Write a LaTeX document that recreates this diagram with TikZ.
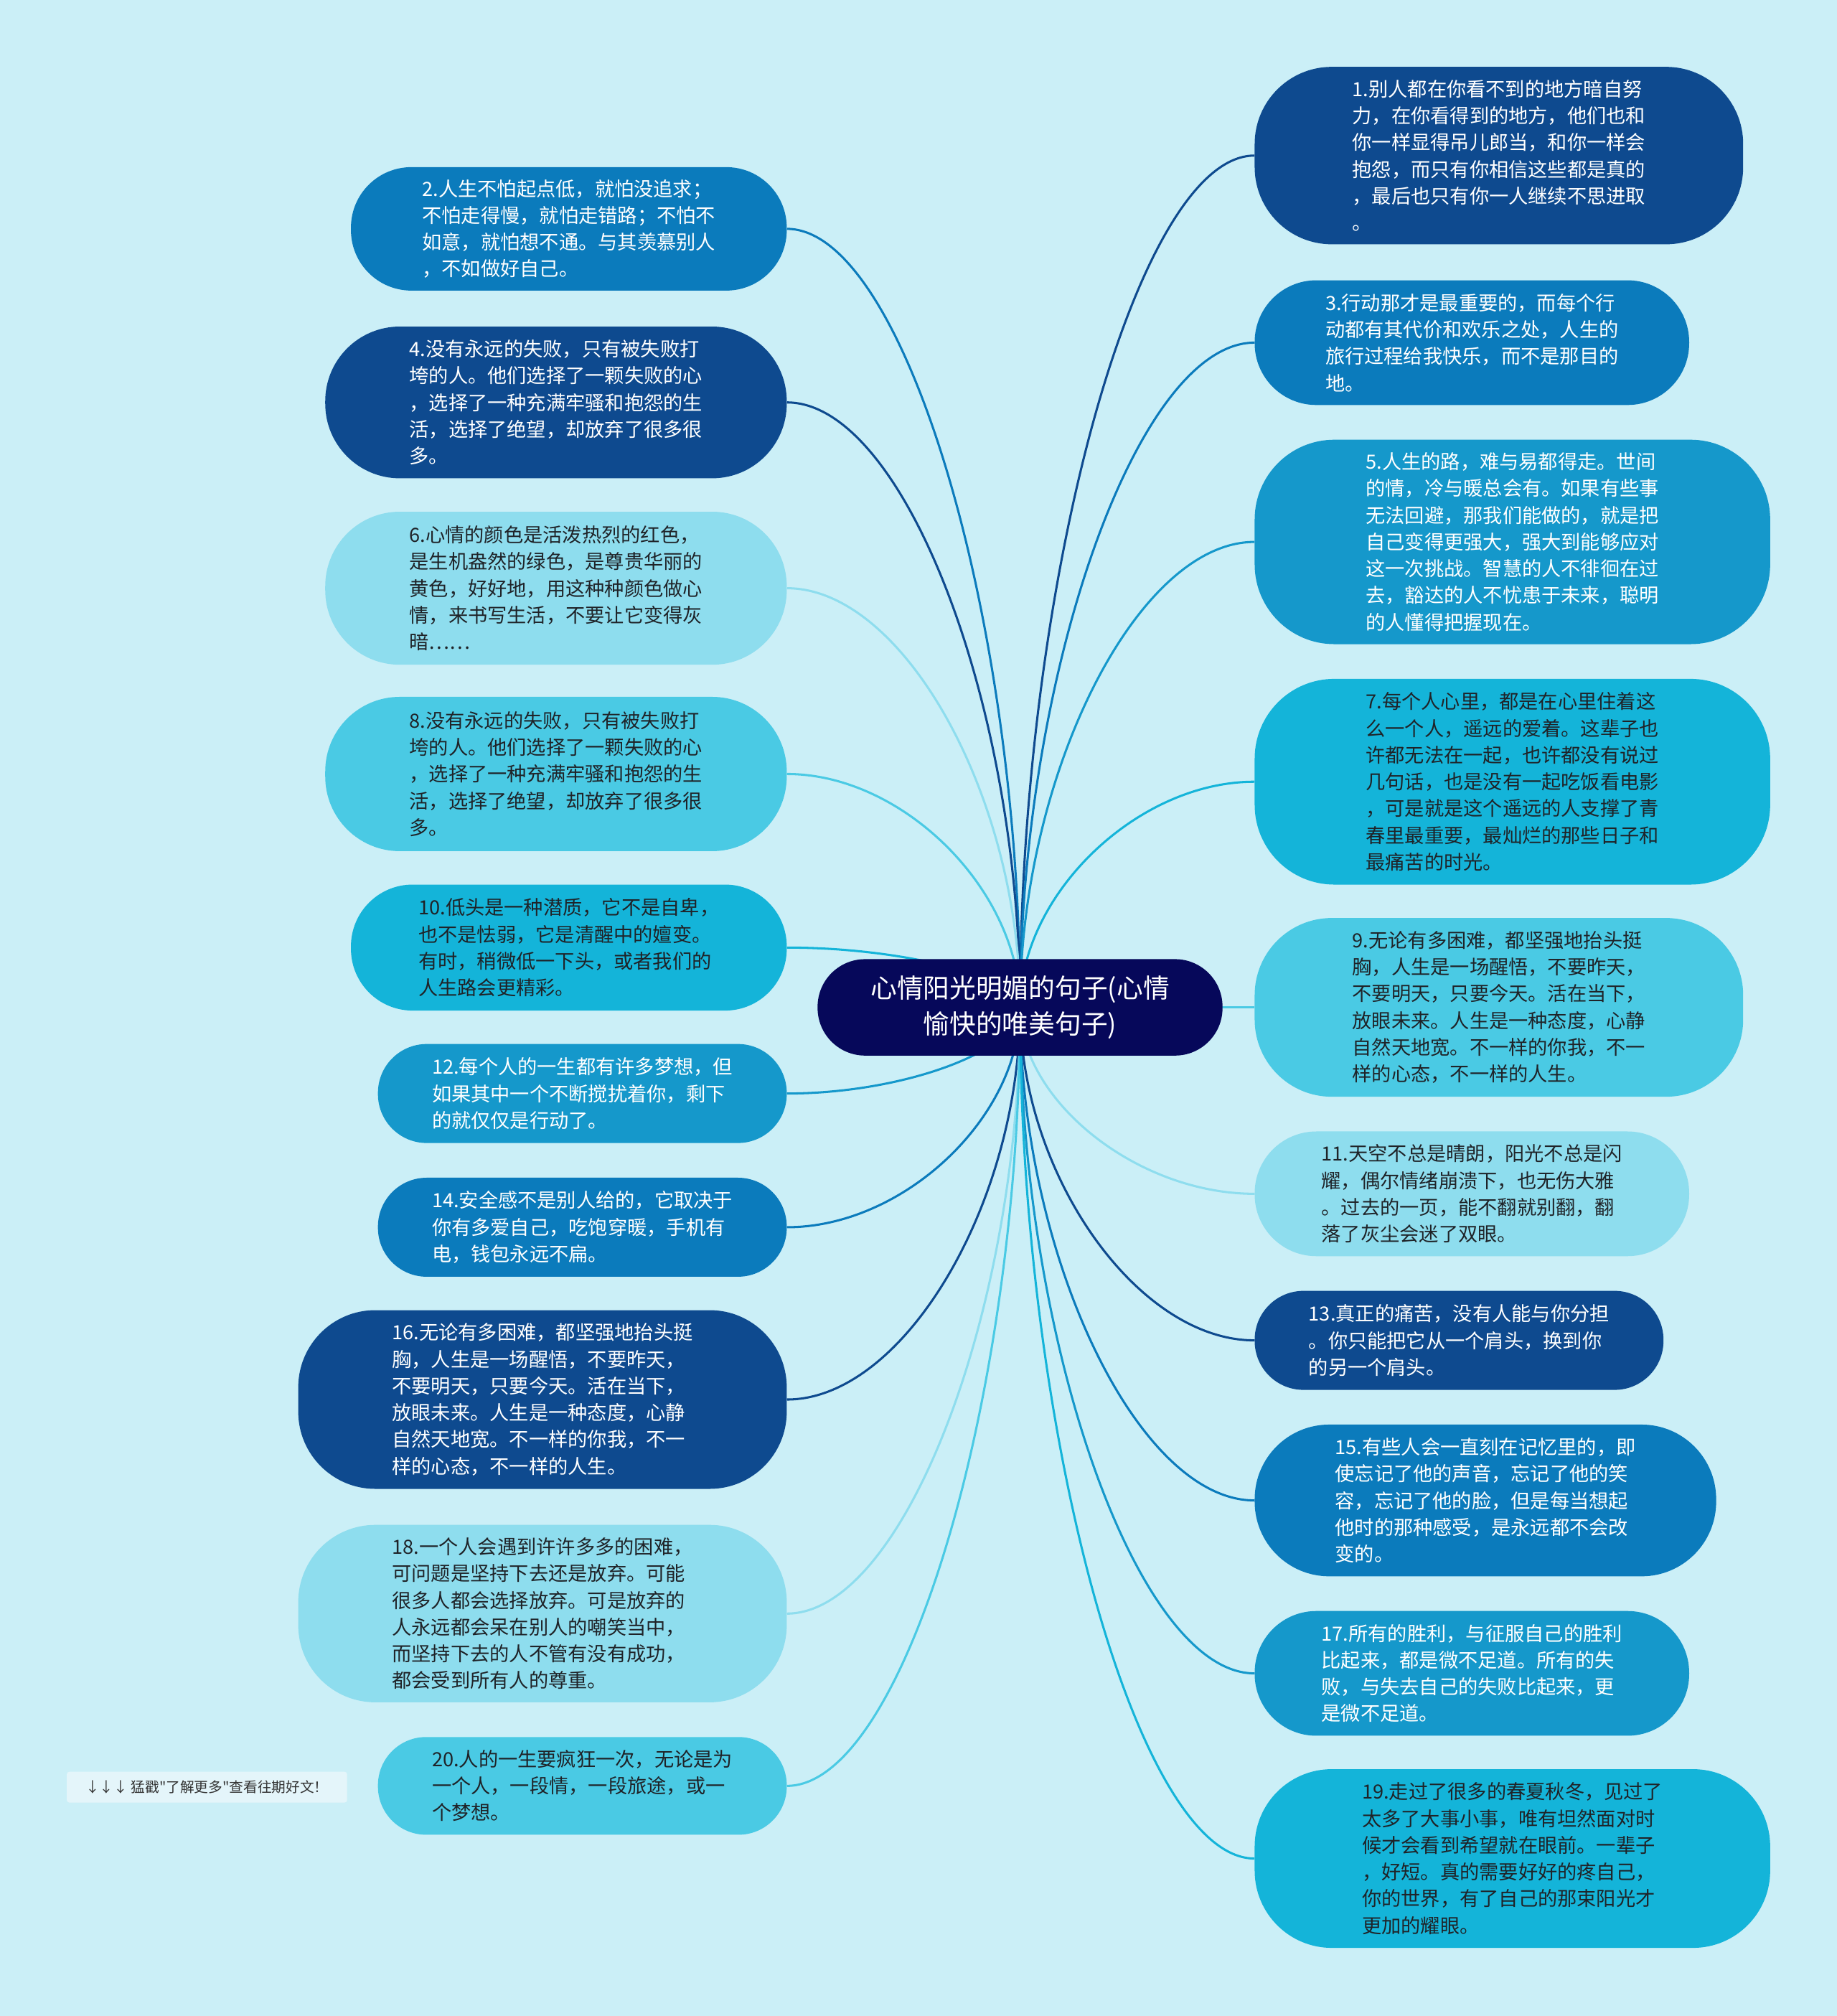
\documentclass[tikz,border=0pt]{standalone}
\usepackage{fontspec}
\setmainfont{Noto Sans CJK SC}
\newfontfamily\notefont{Noto Sans CJK SC}
\usetikzlibrary{calc}
\pgfdeclarelayer{back}
\pgfdeclarelayer{edges}
\pgfsetlayers{back,edges,main}

\definecolor{bgc}{HTML}{CBEFF7}
\definecolor{cnavy}{HTML}{06085A}
\definecolor{cdark}{HTML}{0E4A8F}
\definecolor{cmed}{HTML}{0B7BBC}
\definecolor{cbright}{HTML}{1598CB}
\definecolor{ccyan}{HTML}{14B4D9}
\definecolor{clighter}{HTML}{4ACAE4}
\definecolor{clight}{HTML}{8EDDEE}
\definecolor{tdark}{HTML}{1F2328}
\definecolor{notebg}{HTML}{E4F5FA}
\definecolor{notetx}{HTML}{333333}

\tikzset{
  pill/.style n args={3}{rectangle, minimum width=#1pt, minimum height=#2pt,
    rounded corners=#3pt, align=left, inner sep=0pt,
    font=\fontsize{15.2}{20.8}\selectfont},
  ondark/.style={text=white},
  onlight/.style={text=tdark},
  kdark/.style={fill=cdark, ondark},
  kmed/.style={fill=cmed, ondark},
  kbright/.style={fill=cbright, ondark},
  kcyan/.style={fill=ccyan, onlight},
  klighter/.style={fill=clighter, onlight},
  klight/.style={fill=clight, onlight},
  edge/.style={line width=1.7pt},
}

\newcommand\linkto[3]{%
  \draw[edge,#1] (ctr.center) .. controls ($(ctr.center)!0.5!(ctr.center|-#2.#3)$)
    and ($(ctr.center|-#2.#3)!0.5!(#2.#3)$) .. (#2.#3);}

\begin{document}
\begin{tikzpicture}[x=1pt,y=-1pt]
\begin{pgfonlayer}{back}
  \fill[bgc] (0,0) rectangle (1429,1568);
\end{pgfonlayer}
\useasboundingbox (0,0) rectangle (1429,1568);

% center
\node[pill={315}{75}{37}, fill=cnavy, text=white, align=center,
  font=\fontsize{20.5}{28}\selectfont] (ctr) at (793.5,783.5)
  {心情阳光明媚的句子(心情\\愉快的唯美句子)};

% left side
\node[pill={339}{96}{47}, kmed] (n2) at (442.5,178)
  {2.人生不怕起点低，就怕没追求；\\不怕走得慢，就怕走错路；不怕不\\如意，就怕想不通。与其羡慕别人\\，不如做好自己。};
\node[pill={359}{118}{58}, kdark] (n4) at (432.5,313)
  {4.没有永远的失败，只有被失败打\\垮的人。他们选择了一颗失败的心\\，选择了一种充满牢骚和抱怨的生\\活，选择了绝望，却放弃了很多很\\多。};
\node[pill={359}{119}{58}, klight] (n6) at (432.5,457.5)
  {6.心情的颜色是活泼热烈的红色，\\是生机盎然的绿色，是尊贵华丽的\\黄色，好好地，用这种种颜色做心\\情，来书写生活，不要让它变得灰\\暗……};
\node[pill={359}{120}{58}, klighter] (n8) at (432.5,602)
  {8.没有永远的失败，只有被失败打\\垮的人。他们选择了一颗失败的心\\，选择了一种充满牢骚和抱怨的生\\活，选择了绝望，却放弃了很多很\\多。};
\node[pill={339}{98}{48}, kcyan] (n10) at (442.5,737)
  {10.低头是一种潜质，它不是自卑，\\也不是怯弱，它是清醒中的嬗变。\\有时，稍微低一下头，或者我们的\\人生路会更精彩。};
\node[pill={318}{77}{38}, kbright] (n12) at (453,850.5)
  {12.每个人的一生都有许多梦想，但\\如果其中一个不断搅扰着你，剩下\\的就仅仅是行动了。};
\node[pill={318}{77}{38}, kmed] (n14) at (453,954.5)
  {14.安全感不是别人给的，它取决于\\你有多爱自己，吃饱穿暖，手机有\\电，钱包永远不扁。};
\node[pill={380}{139}{60}, kdark] (n16) at (422,1088.5)
  {16.无论有多困难，都坚强地抬头挺\\胸，人生是一场醒悟，不要昨天，\\不要明天，只要今天。活在当下，\\放眼未来。人生是一种态度，心静\\自然天地宽。不一样的你我，不一\\样的心态，不一样的人生。};
\node[pill={380}{138}{60}, klight] (n18) at (422,1255)
  {18.一个人会遇到许许多多的困难，\\可问题是坚持下去还是放弃。可能\\很多人都会选择放弃。可是放弃的\\人永远都会呆在别人的嘲笑当中，\\而坚持下去的人不管有没有成功，\\都会受到所有人的尊重。};
\node[pill={318}{76}{37.5}, klighter] (n20) at (453,1389)
  {20.人的一生要疯狂一次，无论是为\\一个人，一段情，一段旅途，或一\\个梦想。};
\node[rectangle, rounded corners=2pt, fill=notebg, text=notetx,
  minimum width=218pt, minimum height=24pt, inner sep=0pt,
  font=\notefont\fontsize{11}{12}\selectfont] (note) at (161,1390)
  {↓↓↓ 猛戳"了解更多"查看往期好文！};

% right side
\node[pill={380}{138}{60}, kdark] (n1) at (1166,121)
  {1.别人都在你看不到的地方暗自努\\力，在你看得到的地方，他们也和\\你一样显得吊儿郎当，和你一样会\\抱怨，而只有你相信这些都是真的\\，最后也只有你一人继续不思进取\\。};
\node[pill={338}{97}{48}, kmed] (n3) at (1145,266.5)
  {3.行动那才是最重要的，而每个行\\动都有其代价和欢乐之处，人生的\\旅行过程给我快乐，而不是那目的\\地。};
\node[pill={401}{159}{62}, kbright] (n5) at (1176.5,421.5)
  {5.人生的路，难与易都得走。世间\\的情，冷与暖总会有。如果有些事\\无法回避，那我们能做的，就是把\\自己变得更强大，强大到能够应对\\这一次挑战。智慧的人不徘徊在过\\去，豁达的人不忧患于未来，聪明\\的人懂得把握现在。};
\node[pill={401}{160}{62}, kcyan] (n7) at (1176.5,608)
  {7.每个人心里，都是在心里住着这\\么一个人，遥远的爱着。这辈子也\\许都无法在一起，也许都没有说过\\几句话，也是没有一起吃饭看电影\\，可是就是这个遥远的人支撑了青\\春里最重要，最灿烂的那些日子和\\最痛苦的时光。};
\node[pill={380}{139}{60}, klighter] (n9) at (1166,783.5)
  {9.无论有多困难，都坚强地抬头挺\\胸，人生是一场醒悟，不要昨天，\\不要明天，只要今天。活在当下，\\放眼未来。人生是一种态度，心静\\自然天地宽。不一样的你我，不一\\样的心态，不一样的人生。};
\node[pill={338}{97}{48}, klight] (n11) at (1145,928.5)
  {11.天空不总是晴朗，阳光不总是闪\\耀，偶尔情绪崩溃下，也无伤大雅\\。过去的一页，能不翻就别翻，翻\\落了灰尘会迷了双眼。};
\node[pill={318}{77}{38}, kdark] (n13) at (1135,1042.5)
  {13.真正的痛苦，没有人能与你分担\\。你只能把它从一个肩头，换到你\\的另一个肩头。};
\node[pill={359}{118}{58}, kmed] (n15) at (1155.5,1167)
  {15.有些人会一直刻在记忆里的，即\\使忘记了他的声音，忘记了他的笑\\容，忘记了他的脸，但是每当想起\\他时的那种感受，是永远都不会改\\变的。};
\node[pill={338}{97}{48}, kbright] (n17) at (1145,1301.5)
  {17.所有的胜利，与征服自己的胜利\\比起来，都是微不足道。所有的失\\败，与失去自己的失败比起来，更\\是微不足道。};
\node[pill={401}{139}{60}, kcyan] (n19) at (1176.5,1445.5)
  {19.走过了很多的春夏秋冬，见过了\\太多了大事小事，唯有坦然面对时\\候才会看到希望就在眼前。一辈子\\，好短。真的需要好好的疼自己，\\你的世界，有了自己的那束阳光才\\更加的耀眼。};

\begin{pgfonlayer}{edges}
  \linkto{cmed}{n2}{east}
  \linkto{cdark}{n4}{east}
  \linkto{clight}{n6}{east}
  \linkto{clighter}{n8}{east}
  \linkto{ccyan}{n10}{east}
  \linkto{cbright}{n12}{east}
  \linkto{cmed}{n14}{east}
  \linkto{cdark}{n16}{east}
  \linkto{clight}{n18}{east}
  \linkto{clighter}{n20}{east}
  \linkto{cdark}{n1}{west}
  \linkto{cmed}{n3}{west}
  \linkto{cbright}{n5}{west}
  \linkto{ccyan}{n7}{west}
  \linkto{clighter}{n9}{west}
  \linkto{clight}{n11}{west}
  \linkto{cdark}{n13}{west}
  \linkto{cmed}{n15}{west}
  \linkto{cbright}{n17}{west}
  \linkto{ccyan}{n19}{west}
\end{pgfonlayer}
\end{tikzpicture}
\end{document}
